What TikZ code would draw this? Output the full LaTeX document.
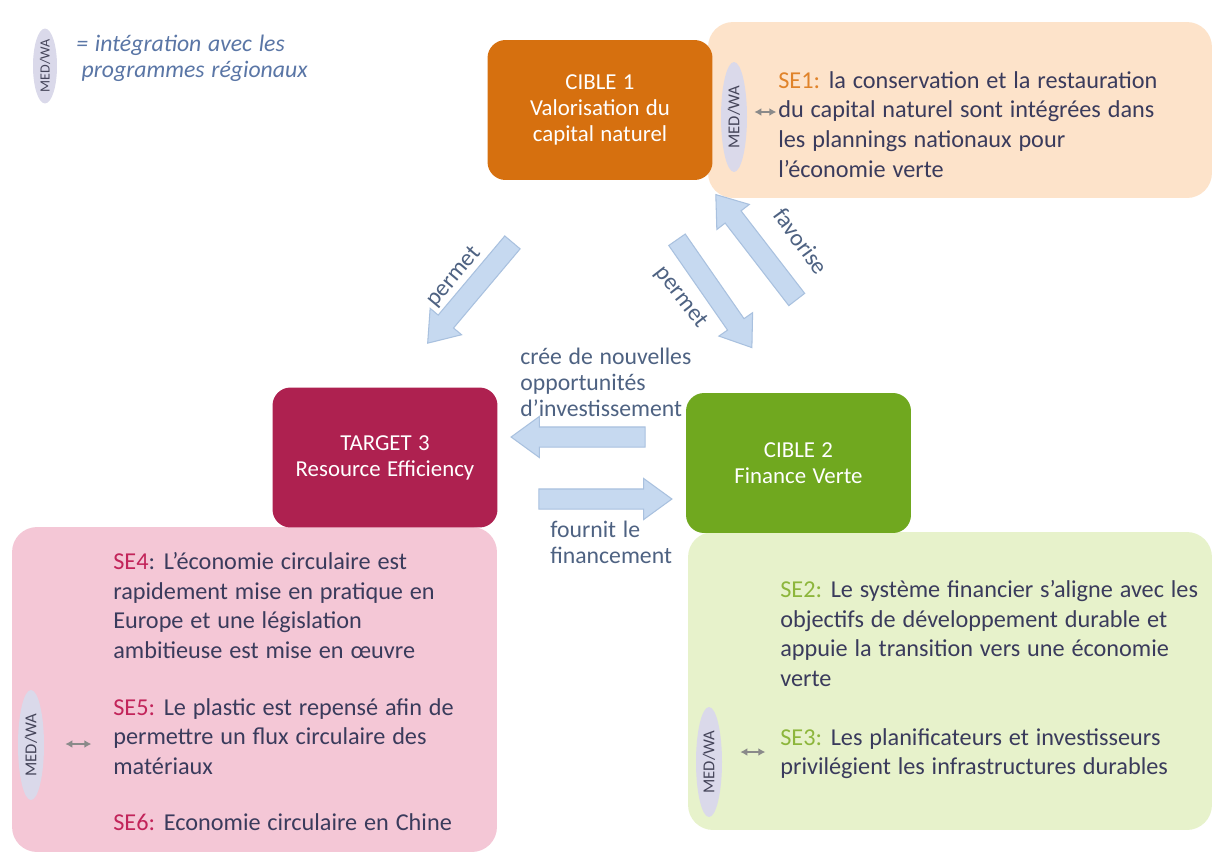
\documentclass[tikz,border=0pt]{standalone}
\usepackage{fontspec}
\setmainfont{Carlito}[WordSpace=1.25]
\usetikzlibrary{shapes.geometric,shapes.arrows,calc,arrows.meta}

\definecolor{orangeT}{HTML}{D6700F}
\definecolor{crimsonT}{HTML}{AE2150}
\definecolor{greenT}{HTML}{70A81F}
\definecolor{peach}{HTML}{FDE3CA}
\definecolor{rose}{HTML}{F4C7D6}
\definecolor{lime}{HTML}{E7F2CB}
\definecolor{bodytext}{HTML}{3A3B5C}
\definecolor{labeltext}{HTML}{4E6282}
\definecolor{legtext}{HTML}{5A76A6}
\definecolor{medfill}{HTML}{DAD9EA}
\definecolor{medtext}{HTML}{45455A}
\definecolor{linkgray}{HTML}{8A8A8A}
\definecolor{flowfill}{HTML}{C6D9F0}
\definecolor{flowline}{HTML}{A9C1DF}
\definecolor{seone}{HTML}{E0832A}
\definecolor{sethree}{HTML}{C2245A}
\definecolor{setwo}{HTML}{8DB63C}

% block arrow between two named points
\newcommand{\flowarrow}[2]{%
  \path let \p1 = ($(#2)-(#1)$), \n1 = {veclen(\x1,\y1)}, \n2 = {atan2(\y1,\x1)} in
    node[flow, minimum height=\n1, rotate=\n2] at ($(#1)!0.5!(#2)$) {};}

\tikzset{
  cible/.style={rectangle, rounded corners=0.36cm, minimum width=4.5cm, minimum height=2.8cm,
    text=white, align=center, font=\fontsize{13}{14.8}\selectfont},
  panel/.style={rectangle, rounded corners=0.5cm, inner sep=0pt},
  setext/.style={anchor=north west, align=left, inner sep=0pt, text=bodytext,
    font=\fontsize{13.8}{16.9}\selectfont},
  medwa/.style={ellipse, fill=medfill, rotate=90, inner sep=0pt, text=medtext,
    font=\fontsize{9.5}{10}\selectfont},
  medlink/.style={draw=linkgray, line width=1.3pt, {Latex[length=4pt,width=4.5pt]}-{Latex[length=4pt,width=4.5pt]}},
  flow/.style={single arrow, fill=flowfill, draw=flowline, line width=0.6pt,
    inner xsep=0pt, inner ysep=0.19cm, minimum width=0.8cm,
    single arrow head extend=0.21cm, single arrow tip angle=72},
  flowlabel/.style={text=labeltext, inner sep=0pt, font=\fontsize{13.5}{14.8}\selectfont},
}

\begin{document}
\begin{tikzpicture}[x=0.02cm, y=-0.02cm]
  \fill[white] (0,0) rectangle (1217,856);
  \useasboundingbox (0,0) rectangle (1217,856);

  % panels behind the targets
  \node[panel, fill=peach, minimum width=10.08cm, minimum height=3.52cm] (p1) at (960,110) {};
  \node[panel, fill=rose,  minimum width=9.7cm,  minimum height=6.5cm]  (p3) at (254.5,689.5) {};
  \node[panel, fill=lime,  minimum width=10.48cm, minimum height=5.96cm] (p2) at (950,681) {};

  % targets
  \node[cible, fill=orangeT]  (c1) at (600,110)   {CIBLE 1\\Valorisation du\\capital naturel};
  \node[cible, fill=crimsonT] (t3) at (385,457.5) {TARGET 3\\Resource Efficiency};
  \node[cible, fill=greenT]   (c2) at (798.5,463) {CIBLE 2\\Finance Verte};

  % legend
  \node[medwa, font=\fontsize{8}{9}\selectfont, minimum width=1.34cm, minimum height=0.48cm] (leg) at (45,66) {MED/WA};
  \node[anchor=north west, align=left, inner sep=0pt, text=legtext,
        font=\fontsize{13.5}{14.8}\itshape\selectfont] (legt) at (76,35)
        {= intégration avec les\\\hspace*{3pt}programmes régionaux};

  % MED/WA markers
  \node[medwa, minimum width=2.2cm, minimum height=0.52cm] (m1) at (734,117) {MED/WA};
  \node[medwa, minimum width=2.2cm, minimum height=0.52cm] (m3) at (31,745)  {MED/WA};
  \node[medwa, minimum width=2.2cm, minimum height=0.52cm] (m2) at (709,762) {MED/WA};

  % objectives
  \node[setext] (se1) at (778,71)
    {\textcolor{seone}{SE1:} la conservation et la restauration\\du capital naturel sont intégrées dans\\les plannings nationaux pour\\l’économie verte};
  \node[setext] (se4) at (113,552)
    {\textcolor{sethree}{SE4}: L’économie circulaire est\\rapidement mise en pratique en\\Europe et une législation\\ambitieuse est mise en œuvre};
  \node[setext] (se5) at (113,698)
    {\textcolor{sethree}{SE5:} Le plastic est repensé afin de\\permettre un flux circulaire des\\matériaux};
  \node[setext] (se6) at (113,813)
    {\textcolor{sethree}{SE6:} Economie circulaire en Chine};
  \node[setext] (se2) at (780,580)
    {\textcolor{setwo}{SE2:} Le système financier s’aligne avec les\\objectifs de développement durable et\\appuie la transition vers une économie\\verte};
  \node[setext] (se3) at (780,728)
    {\textcolor{setwo}{SE3:} Les planificateurs et investisseurs\\privilégient les infrastructures durables};

  \draw[medlink] ($(m1.south)+(7,-5)$)  -- ++(22,0);
  \draw[medlink] ($(m3.south)+(21,-1)$) -- ++(26,0);
  \draw[medlink] ($(m2.south)+(18,-10)$) -- ++(25,0);

  % flows
  \coordinate (f1s) at (517,237);  \coordinate (f1e) at (432,338);
  \coordinate (f2s) at (673,234);  \coordinate (f2e) at (748,342);
  \coordinate (f3s) at (801,305);  \coordinate (f3e) at (720,200);
  \coordinate (f4s) at (652,437);  \coordinate (f4e) at (518,437);
  \coordinate (f5s) at (532,499);  \coordinate (f5e) at (665,499);
  \flowarrow{f1s}{f1e}
  \flowarrow{f2s}{f2e}
  \flowarrow{f3s}{f3e}
  \flowarrow{f4s}{f4e}
  \flowarrow{f5s}{f5e}

  \node[flowlabel, rotate=50]  (l1) at (454,277) {permet};
  \node[flowlabel, rotate=-52] (l2) at (681,297) {permet};
  \node[flowlabel, rotate=-54] (l3) at (801,241) {favorise};
  \node[flowlabel, anchor=north west, align=left] (l4) at (520,348)
    {crée de nouvelles\\opportunités\\d’investissement};
  \node[flowlabel, anchor=north west, align=left] (l5) at (550,521)
    {fournit le\\financement};
\end{tikzpicture}
\end{document}
